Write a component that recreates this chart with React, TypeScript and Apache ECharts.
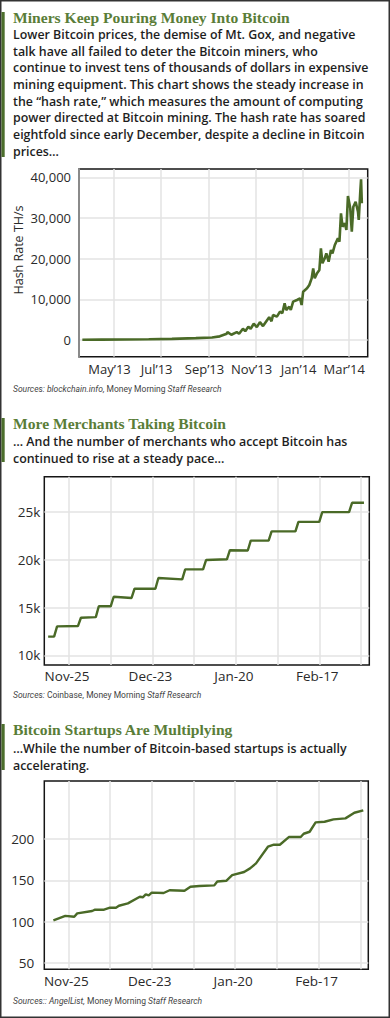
import React, { useEffect, useRef } from 'react';
import * as echarts from 'echarts';

// ---------- Chart 1: hash rate (TH/s) ----------
const hashDates = [
  '2013-03-21', '2013-04-15', '2013-05-15', '2013-06-15', '2013-07-15', '2013-08-15',
  '2013-09-05', '2013-09-15', '2013-09-24', '2013-09-25', '2013-09-30', '2013-10-07',
  '2013-10-10', '2013-10-15', '2013-10-18', '2013-10-22', '2013-10-25', '2013-10-29',
  '2013-11-02', '2013-11-06', '2013-11-10', '2013-11-15', '2013-11-18', '2013-11-21',
  '2013-11-23', '2013-11-28', '2013-12-02', '2013-12-05', '2013-12-08', '2013-12-10',
  '2013-12-14', '2013-12-16', '2013-12-19', '2013-12-24', '2013-12-28', '2013-12-30',
  '2014-01-01', '2014-01-06', '2014-01-09', '2014-01-12', '2014-01-14', '2014-01-16',
  '2014-01-19', '2014-01-22', '2014-01-24', '2014-01-26', '2014-01-29', '2014-01-31',
  '2014-02-03', '2014-02-06', '2014-02-08', '2014-02-11', '2014-02-15', '2014-02-17',
  '2014-02-19', '2014-02-21', '2014-02-24', '2014-02-26', '2014-02-28', '2014-03-03',
  '2014-03-05', '2014-03-07', '2014-03-10', '2014-03-13', '2014-03-14', '2014-03-16',
  '2014-03-17', '2014-03-18',
];
const hashValues = [
  80, 100, 120, 170, 280, 450,
  620, 900, 1530, 1920, 1280, 1920,
  1530, 2760, 2170, 3250, 2760, 4000,
  3170, 4400, 3420, 4810, 5620, 4600,
  6150, 5740, 6970, 6560, 9010, 7370,
  8190, 7370, 9420, 9830, 10240, 8600,
  11880, 12700, 13520, 15160, 17610, 15160,
  16390, 17200, 22530, 18850, 20080, 21300,
  19260, 22120, 21300, 23350, 24990, 24170,
  31140, 27850, 28680, 27040, 35390, 32370,
  26620, 32770, 34000, 31540, 29500, 36460,
  39500, 33600,
];
const hashTickDates = ['2013-05-01', '2013-07-01', '2013-09-01', '2013-11-01', '2014-01-01', '2014-03-01'];
const hashYTicks = [0, 10000, 20000, 30000, 40000];

// ---------- Chart 2: merchants ----------
const merchantDates = [
  '2013-11-18', '2013-11-20', '2013-11-21', '2013-11-28', '2013-11-29', '2013-12-04',
  '2013-12-05', '2013-12-09', '2013-12-10', '2013-12-16', '2013-12-17', '2013-12-24',
  '2013-12-25', '2014-01-02', '2014-01-03', '2014-01-09', '2014-01-10', '2014-01-17',
  '2014-01-18', '2014-01-24', '2014-01-25', '2014-01-31', '2014-02-01', '2014-02-09',
  '2014-02-10', '2014-02-17', '2014-02-18', '2014-02-27', '2014-02-28', '2014-03-04',
];
const merchantValues = [
  11950, 11950, 13030, 13060, 13930, 14000,
  15130, 15130, 16130, 16000, 16970, 16970,
  18090, 17950, 18990, 18990, 19970, 20050,
  21000, 20970, 22000, 22000, 22970, 22970,
  23970, 23970, 24990, 24990, 25960, 25960,
];
const merchantYTicks = [10000, 15000, 20000, 25000];

// ---------- Chart 3: startups ----------
const startupDates = [
  '2013-11-20', '2013-11-24', '2013-11-27', '2013-11-28', '2013-12-03', '2013-12-04',
  '2013-12-07', '2013-12-09', '2013-12-11', '2013-12-12', '2013-12-15', '2013-12-19',
  '2013-12-20', '2013-12-21', '2013-12-22', '2013-12-23', '2013-12-27', '2013-12-29',
  '2014-01-03', '2014-01-05', '2014-01-08', '2014-01-13', '2014-01-14', '2014-01-17',
  '2014-01-19', '2014-01-23', '2014-01-25', '2014-01-27', '2014-01-31', '2014-02-02',
  '2014-02-04', '2014-02-07', '2014-02-11', '2014-02-12', '2014-02-14', '2014-02-16',
  '2014-02-19', '2014-02-22', '2014-02-26', '2014-03-01', '2014-03-04',
];
const startupValues = [
  101.6, 107, 106, 110, 112.9, 114.5,
  114.5, 116.9, 116.9, 119.3, 122.2, 130.2,
  129.5, 133.1, 131.9, 135.1, 134.7, 138,
  137.5, 142.3, 143.1, 143.9, 148.7, 149.5,
  156.4, 160.1, 164.5, 170.6, 190.7, 193.1,
  193.1, 202.4, 202.4, 206.4, 208.8, 220.1,
  220.9, 223.8, 225, 231.8, 234.7,
];
const startupYTicks = [50, 100, 150, 200];

// shared biweekly grid / four-weekly labels for charts 2 & 3
const weekGridDates = ['2013-11-25', '2013-12-09', '2013-12-23', '2014-01-06', '2014-01-20', '2014-02-03', '2014-02-17', '2014-03-03'];
const weekLabelDates = ['2013-11-25', '2013-12-23', '2014-01-20', '2014-02-17'];

const MONTHS = ['Jan', 'Feb', 'Mar', 'Apr', 'May', 'Jun', 'Jul', 'Aug', 'Sep', 'Oct', 'Nov', 'Dec'];
const DAY = 86400000;
const toTs = (s: string) => {
  const [y, m, d] = s.split('-').map(Number);
  return Date.UTC(y, m - 1, d);
};

const LINE_GREEN = '#4a6a27';
const TITLE_GREEN = '#5a7d38';
const BAR_GREEN = '#4c6e2c';
const GRID_GRAY = '#e3e3e3';
const TEXT = '#1e1e1e';
const AXIS_TEXT = '#2a2a2a';
const SANS = 'Open Sans';
const AXIS_FONT = 'Open Sans';

function buildOption() {
  const pair = (dates: string[], vals: number[]) => dates.map((d, i) => [toTs(d), vals[i]]);

  const monthFmt = (v: number) => {
    const d = new Date(v);
    return MONTHS[d.getUTCMonth()] + '\u2019' + String(d.getUTCFullYear()).slice(2);
  };
  const dayFmt = (v: number) => {
    const d = new Date(v);
    return MONTHS[d.getUTCMonth()] + '-' + d.getUTCDate();
  };

  const splitLine = { show: true, lineStyle: { color: GRID_GRAY, width: 1.5 } };
  const gridBase = { show: true, borderColor: '#151515', borderWidth: 1.5, backgroundColor: 'transparent' };

  const hashTicks = hashTickDates.map(toTs);
  const weekTicks = weekGridDates.map(toTs);
  const weekLabels = weekLabelDates.map(toTs);

  const body = (text: string, y: number) => ({
    type: 'text', x: 13, y,
    style: { text, fill: TEXT, fontFamily: SANS, fontWeight: 600, fontSize: 12.4, verticalAlign: 'middle', align: 'left' },
  });
  const title = (text: string, y: number) => ({
    type: 'text', x: 13, y,
    style: { text, fill: TITLE_GREEN, fontFamily: 'Liberation Serif', fontWeight: 'bold', fontSize: 15.6, verticalAlign: 'middle', align: 'left' },
  });
  const source = (parts: [string, boolean][], y: number) => ({
    type: 'text', x: 13, y,
    style: {
      text: parts.map(([t, it]) => `{${it ? 'i' : 'n'}|${t}}`).join(''),
      verticalAlign: 'middle', align: 'left',
      rich: {
        i: { fontFamily: 'Roboto', fontStyle: 'italic', fontSize: 8.5, fill: '#444' },
        n: { fontFamily: 'Roboto', fontSize: 8.5, fill: '#444' },
      },
    },
  });

  const graphic = [
    { type: 'rect', shape: { x: 0.75, y: 0.75, width: 388.5, height: 1016.5 }, style: { fill: 'none', stroke: '#333', lineWidth: 1.5 } },
    { type: 'rect', shape: { x: 1.5, y: 12, width: 3.2, height: 145 }, style: { fill: BAR_GREEN } },
    { type: 'rect', shape: { x: 1.5, y: 418, width: 3.2, height: 44 }, style: { fill: BAR_GREEN } },
    { type: 'rect', shape: { x: 1.5, y: 724, width: 3.2, height: 46 }, style: { fill: BAR_GREEN } },

    title('Miners Keep Pouring Money Into Bitcoin', 17.5),
    body('Lower Bitcoin prices, the demise of Mt. Gox, and negative', 34.5),
    body('talk have all failed to deter the Bitcoin miners, who', 51.2),
    body('continue to invest tens of thousands of dollars in expensive', 67.8),
    body('mining equipment. This chart shows the steady increase in', 84.5),
    body('the \u201chash rate,\u201d which measures the amount of computing', 101.2),
    body('power directed at Bitcoin mining. The hash rate has soared', 117.8),
    body('eightfold since early December, despite a decline in Bitcoin', 134.5),
    body('prices\u2026', 151.2),
    {
      type: 'text', x: 18, y: 250, rotation: Math.PI / 2,
      style: { text: 'Hash Rate TH/s', fill: AXIS_TEXT, fontFamily: AXIS_FONT, fontSize: 12.5, align: 'center', verticalAlign: 'middle' },
    },
    source([['Sources: blockchain.info, ', true], ['Money Morning ', false], ['Staff Research', true]], 389),

    title('More Merchants Taking Bitcoin', 423.5),
    body('\u2026 And the number of merchants who accept Bitcoin has', 441.8),
    body('continued to rise at a steady pace\u2026', 458.5),
    source([['Sources: ', true], ['Coinbase, Money Morning ', false], ['Staff Research', true]], 695),

    title('Bitcoin Startups Are Multiplying', 729.9),
    body('\u2026While the number of Bitcoin-based startups is actually', 748.5),
    body('accelerating.', 765.5),
    source([['Sources:: AngelList, ', true], ['Money Morning ', false], ['Staff Research', true]], 1001),
  ];

  const axisLabelBase = { color: AXIS_TEXT, fontFamily: AXIS_FONT };

  return {
    animation: false,
    backgroundColor: '#fff',
    textStyle: { fontFamily: AXIS_FONT },
    grid: [
      { ...gridBase, left: 79, top: 169, width: 288.7, height: 187.7 },
      { ...gridBase, left: 44.3, top: 476.7, width: 325, height: 188.3 },
      { ...gridBase, left: 44.3, top: 781, width: 324, height: 188.3 },
    ],
    xAxis: [
      {
        type: 'value', gridIndex: 0,
        min: toTs('2013-05-01') - 45.34 * DAY, max: toTs('2013-05-01') + 328.6 * DAY,
        axisLine: { show: false }, axisTick: { show: false, customValues: hashTicks },
        splitLine,
        axisLabel: { ...axisLabelBase, customValues: hashTicks, formatter: monthFmt, fontSize: 13, margin: 6, padding: [0, 9, 0, 0] },
      },
      {
        type: 'value', gridIndex: 1,
        min: toTs('2013-11-25') - 8.29 * DAY, max: toTs('2014-03-03') + 2.79 * DAY,
        axisLine: { show: false }, axisTick: { show: false, customValues: weekTicks },
        splitLine,
        axisLabel: { ...axisLabelBase, customValues: weekLabels, formatter: dayFmt, fontSize: 13.5, margin: 4, padding: [0, 4, 0, 0] },
      },
      {
        type: 'value', gridIndex: 2,
        min: toTs('2013-11-25') - 8.05 * DAY, max: toTs('2014-03-03') + 2.68 * DAY,
        axisLine: { show: false }, axisTick: { show: false, customValues: weekTicks },
        splitLine,
        axisLabel: { ...axisLabelBase, customValues: weekLabels, formatter: dayFmt, fontSize: 13.5, margin: 5, padding: [0, 4, 0, 0] },
      },
    ],
    yAxis: [
      {
        type: 'value', gridIndex: 0, min: -4105, max: 42035,
        axisLine: { show: true, lineStyle: { color: '#8a8a8a', width: 2 } },
        axisTick: { show: false, customValues: hashYTicks },
        splitLine,
        axisLabel: { ...axisLabelBase, customValues: hashYTicks, fontSize: 13, margin: 8, formatter: (v: number) => v.toLocaleString('en-US') },
      },
      {
        type: 'value', gridIndex: 1, min: 8985, max: 28693,
        axisLine: { show: false },
        axisTick: { show: false, customValues: merchantYTicks },
        splitLine,
        axisLabel: { ...axisLabelBase, customValues: merchantYTicks, fontSize: 13.5, margin: 4, formatter: (v: number) => v / 1000 + 'k' },
      },
      {
        type: 'value', gridIndex: 2, min: 42.4, max: 270.2,
        axisLine: { show: false },
        axisTick: { show: false, customValues: startupYTicks },
        splitLine,
        axisLabel: { ...axisLabelBase, customValues: startupYTicks, fontSize: 13.5, margin: 10 },
      },
    ],
    series: [
      {
        type: 'line', xAxisIndex: 0, yAxisIndex: 0, data: pair(hashDates, hashValues),
        showSymbol: false, lineStyle: { color: LINE_GREEN, width: 2.6 }, z: 5,
      },
      {
        type: 'line', xAxisIndex: 1, yAxisIndex: 1, data: pair(merchantDates, merchantValues),
        showSymbol: false, lineStyle: { color: LINE_GREEN, width: 2.4 }, z: 5,
      },
      {
        type: 'line', xAxisIndex: 2, yAxisIndex: 2, data: pair(startupDates, startupValues),
        showSymbol: false, lineStyle: { color: LINE_GREEN, width: 2.4 }, z: 5,
      },
    ],
    graphic,
  };
}

export default function App() {
  const ref = useRef<HTMLDivElement>(null);
  useEffect(() => {
    if (!ref.current) return;
    const chart = echarts.init(ref.current, null, { renderer: 'svg', width: 390, height: 1018 });
    chart.setOption(buildOption() as any);
    return () => chart.dispose();
  }, []);
  return (
    <div
      ref={ref}
      style={{ position: 'absolute', left: 0, top: 0, width: 390, height: 1018, background: '#fff' }}
    />
  );
}
